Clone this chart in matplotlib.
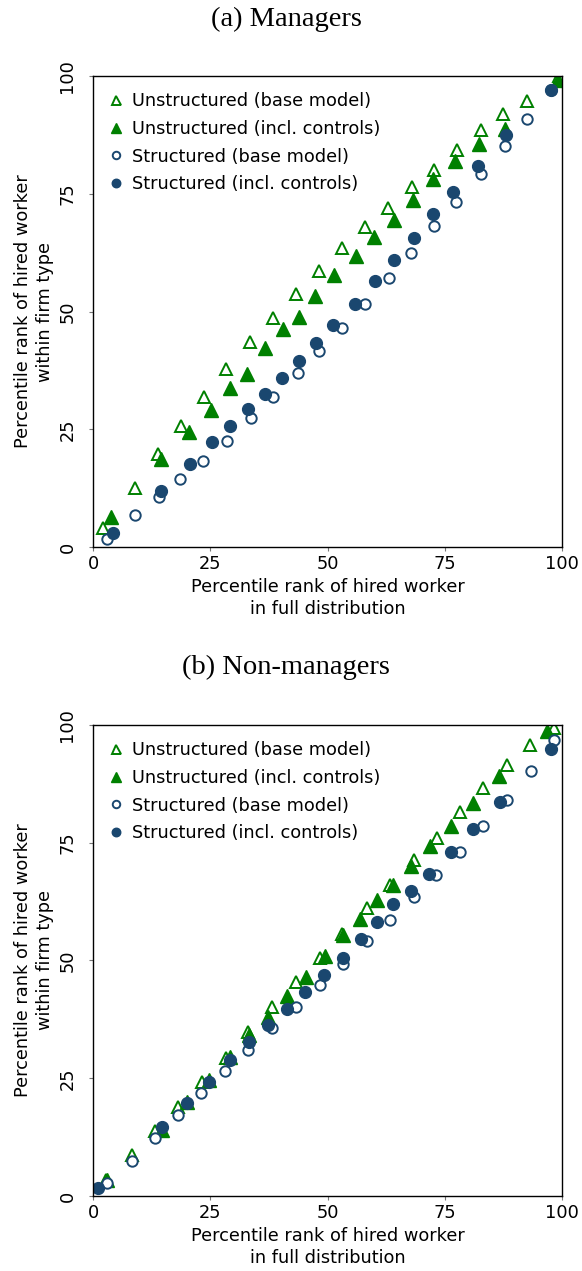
import matplotlib
matplotlib.use('Agg')
import matplotlib.pyplot as plt

green = '#008000'
navy = '#1a476f'

# ---------------- (a) Managers ----------------
a_ub_x = [2.1, 8.9, 13.9, 18.7, 23.6, 28.4, 33.5, 38.4, 43.3, 48.2, 53.0, 58.0, 62.8, 67.9, 72.6, 77.5, 82.6, 87.4, 92.4, 99.4]
a_ub_y = [4.1, 12.5, 19.7, 25.7, 31.8, 37.9, 43.5, 48.6, 53.8, 58.6, 63.4, 67.9, 71.9, 76.4, 80.1, 84.2, 88.5, 91.9, 94.7, 100.1]
a_uc_x = [3.8, 14.5, 20.5, 25.2, 29.1, 32.8, 36.7, 40.4, 43.9, 47.3, 51.4, 56.0, 59.8, 64.1, 68.1, 72.4, 77.1, 82.3, 87.8, 99.0]
a_uc_y = [6.4, 18.6, 24.4, 29.0, 33.8, 36.7, 42.2, 46.2, 48.8, 53.4, 57.8, 61.7, 65.8, 69.4, 73.6, 78.1, 81.9, 85.6, 88.8, 99.1]
a_sb_x = [3.05, 9.0, 14.1, 18.6, 23.5, 28.6, 33.6, 38.3, 43.6, 48.2, 53.0, 58.0, 63.0, 67.8, 72.7, 77.3, 82.6, 87.7, 92.6, 97.7]
a_sb_y = [1.8, 6.9, 10.6, 14.4, 18.3, 22.5, 27.5, 31.8, 37.0, 41.6, 46.4, 51.5, 57.1, 62.4, 68.1, 73.3, 79.2, 85.2, 90.9, 97.0]
a_sc_x = [4.2, 14.5, 20.7, 25.3, 29.1, 33.0, 36.7, 40.3, 43.8, 47.6, 51.2, 55.9, 60.1, 64.2, 68.3, 72.5, 76.8, 82.1, 88.1, 97.7]
a_sc_y = [3.0, 12.0, 17.7, 22.2, 25.8, 29.4, 32.4, 35.9, 39.5, 43.4, 47.2, 51.6, 56.5, 60.9, 65.6, 70.6, 75.3, 81.0, 87.5, 97.1]

# ---------------- (b) Non-managers ----------------
b_ub_x = [2.8, 8.2, 13.2, 18.2, 23.2, 28.3, 33.1, 38.2, 43.2, 48.3, 53.0, 58.4, 63.2, 68.3, 73.3, 78.3, 83.2, 88.3, 93.2, 98.3]
b_ub_y = [3.4, 8.8, 13.8, 18.9, 24.2, 29.3, 34.8, 40.1, 45.4, 50.6, 55.6, 61.2, 66.1, 71.4, 76.1, 81.5, 86.7, 91.5, 95.8, 99.4]
b_uc_x = [3.05, 14.6, 20.0, 24.8, 29.2, 33.3, 37.2, 41.3, 45.4, 49.5, 53.2, 56.9, 60.6, 64.0, 67.7, 71.9, 76.3, 80.9, 86.6, 96.7]
b_uc_y = [3.3, 14.1, 20.0, 24.6, 29.5, 34.1, 38.0, 42.4, 46.6, 50.9, 55.4, 58.8, 62.9, 66.1, 70.0, 74.4, 78.5, 83.5, 89.1, 98.7]
b_sb_x = [3.05, 8.2, 13.1, 18.1, 23.0, 28.2, 33.0, 38.2, 43.2, 48.3, 53.2, 58.3, 63.2, 68.3, 73.1, 78.3, 83.2, 88.3, 93.3, 98.3]
b_sb_y = [2.8, 7.4, 12.4, 17.1, 21.9, 26.5, 31.1, 35.7, 40.2, 44.8, 49.3, 54.2, 58.7, 63.4, 68.2, 73.0, 78.5, 84.0, 90.2, 96.8]
b_sc_x = [1.1, 14.6, 20.1, 24.8, 29.2, 33.3, 37.2, 41.3, 45.2, 49.3, 53.2, 57.1, 60.6, 64.0, 67.7, 71.7, 76.2, 80.9, 86.8, 97.6]
b_sc_y = [1.6, 14.6, 19.8, 24.2, 28.8, 32.7, 36.2, 39.6, 43.3, 46.9, 50.6, 54.5, 58.2, 61.9, 64.8, 68.4, 73.0, 77.9, 83.7, 94.9]

labels = ['Unstructured (base model)', 'Unstructured (incl. controls)',
          'Structured (base model)', 'Structured (incl. controls)']
ticks = [0, 25, 50, 75, 100]
fs = 12.8

fig = plt.figure(figsize=(5.82, 12.71), dpi=100)


def panel(rect, title, title_y, ub, uc, sb, sc):
    ax = fig.add_axes(rect)
    ax.plot(ub[0], ub[1], linestyle='None', marker='^', ms=9, mfc='white', mec=green, mew=1.4, label=labels[0])
    ax.plot(uc[0], uc[1], linestyle='None', marker='^', ms=10, color=green, label=labels[1])
    ax.plot(sb[0], sb[1], linestyle='None', marker='o', ms=7.5, mfc='white', mec=navy, mew=1.4, label=labels[2])
    ax.plot(sc[0], sc[1], linestyle='None', marker='o', ms=8.5, color=navy, label=labels[3])
    ax.set_xlim(0, 100)
    ax.set_ylim(0, 100)
    ax.set_xticks(ticks)
    ax.set_yticks(ticks)
    ax.tick_params(length=3, width=0.8, color='#777777', labelsize=fs)
    ax.tick_params(axis='x', pad=3)
    ax.tick_params(axis='y', pad=9)
    for lab in ax.get_yticklabels():
        lab.set_rotation(90)
        lab.set_va('center')
    for s in ax.spines.values():
        s.set_linewidth(1.0)
    ax.set_xlabel('Percentile rank of hired worker\nin full distribution', fontsize=fs, labelpad=3, linespacing=1.3)
    ax.set_ylabel('Percentile rank of hired worker\nwithin firm type', fontsize=fs, labelpad=3, linespacing=1.3)
    fig.text(0.492, title_y, title, family='Liberation Serif', fontsize=20.5, ha='center', va='center')
    ax.legend(loc='upper left', frameon=False, fontsize=fs, markerscale=0.72,
              handlelength=0.8, handletextpad=0.5, labelspacing=0.55,
              borderaxespad=0.5)
    return ax


panel([0.160, 0.5696, 0.806, 0.3706], '(a) Managers', 1 - 19 / 1271,
      (a_ub_x, a_ub_y), (a_uc_x, a_uc_y), (a_sb_x, a_sb_y), (a_sc_x, a_sc_y))
panel([0.160, 0.059, 0.806, 0.3706], '(b) Non-managers', 1 - 667 / 1271,
      (b_ub_x, b_ub_y), (b_uc_x, b_uc_y), (b_sb_x, b_sb_y), (b_sc_x, b_sc_y))

fig.savefig('out.png', dpi=100)
